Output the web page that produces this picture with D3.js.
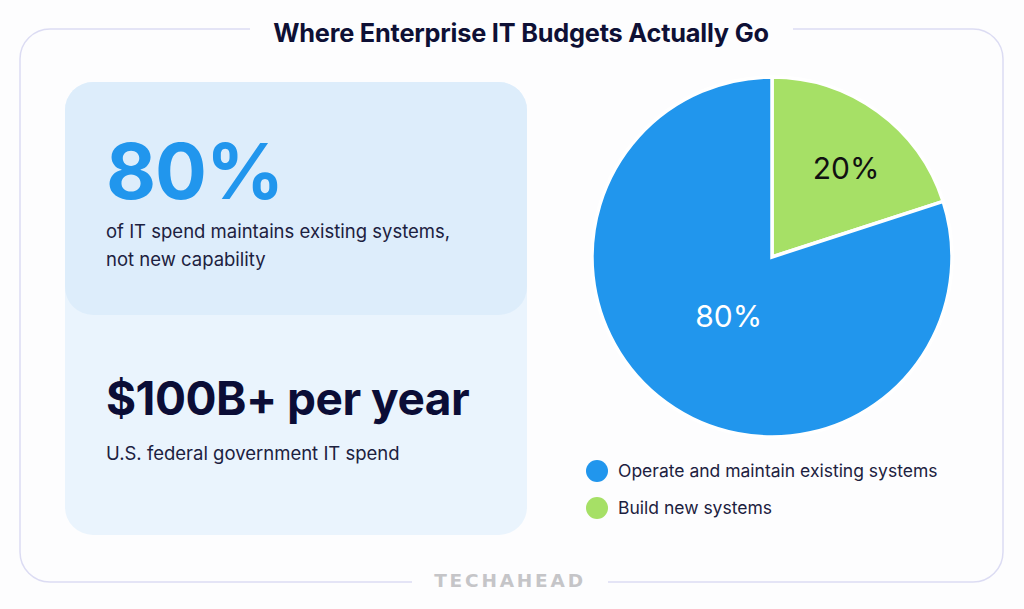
<!DOCTYPE html>
<html><head><meta charset="utf-8">
<script src="https://cdn.jsdelivr.net/npm/d3@7"></script>
<style>html,body{margin:0;padding:0;background:#fdfdfe;}svg{display:block;font-family:Inter,"Noto Sans",sans-serif;}</style>
</head><body>
<script>
const title = "Where Enterprise IT Budgets Actually Go";
const categories = ["Operate and maintain existing systems", "Build new systems"];
const values = [80, 20];
const sliceLabels = ["80%", "20%"];
const colors = ["#2196ed", "#a6e066"];
const stat1 = "80%";
const stat1Lines = ["of IT spend maintains existing systems,", "not new capability"];
const stat2 = "$100B+ per year";
const stat2Lines = ["U.S. federal government IT spend"];
const brand = "TECHAHEAD";

const W = 1024, H = 609;
const svg = d3.select("body").append("svg").attr("width", W).attr("height", H);

// outer frame with gaps for title and brand
const fx0 = 20, fy0 = 29, fx1 = 1003, fy1 = 582, rr = 30;
const framePath = `M250,${fy0} L${fx0+rr},${fy0} A${rr},${rr} 0 0 0 ${fx0},${fy0+rr} L${fx0},${fy1-rr} A${rr},${rr} 0 0 0 ${fx0+rr},${fy1} L412,${fy1}
M608,${fy1} L${fx1-rr},${fy1} A${rr},${rr} 0 0 0 ${fx1},${fy1-rr} L${fx1},${fy0+rr} A${rr},${rr} 0 0 0 ${fx1-rr},${fy0} L793,${fy0}`;
svg.append("path").attr("d", framePath).attr("fill", "none").attr("stroke", "#dcdcf3").attr("stroke-width", 1.5);

svg.append("text").attr("x", 521).attr("y", 42).attr("text-anchor", "middle")
  .attr("font-size", 25.3).attr("font-weight", 700).attr("fill", "#0e1035").attr("letter-spacing", -0.2).text(title);

// left cards
svg.append("rect").attr("x", 65).attr("y", 82).attr("width", 462).attr("height", 453).attr("rx", 28).attr("fill", "#eaf4fd");
svg.append("rect").attr("x", 65).attr("y", 82).attr("width", 462).attr("height", 233).attr("rx", 28).attr("fill", "#ddedfb");

svg.append("text").attr("x", 106).attr("y", 199).attr("font-size", 77).attr("font-weight", 700)
  .attr("fill", "#2196ed").attr("letter-spacing", -1).text(stat1);
stat1Lines.forEach((t, i) => svg.append("text").attr("x", 106).attr("y", 238 + i * 28)
  .attr("font-size", 18.5).attr("fill", "#1c2140").text(t));

svg.append("text").attr("x", 106).attr("y", 415).attr("font-size", 46).attr("font-weight", 700)
  .attr("fill", "#0b0d36").attr("letter-spacing", -0.5).text(stat2);
stat2Lines.forEach((t, i) => svg.append("text").attr("x", 106).attr("y", 460 + i * 29)
  .attr("font-size", 18.5).attr("fill", "#1c2140").text(t));

// pie
const cx = 772, cy = 257, R = 180;
const pie = d3.pie().sort(null).startAngle(0).endAngle(2 * Math.PI).value(d => d);
// order: the 20% slice starts at 12 o'clock going clockwise
const order = [1, 0];
const arcs = pie(order.map(i => values[i]));
const arc = d3.arc().innerRadius(0).outerRadius(R);
const g = svg.append("g").attr("transform", `translate(${cx},${cy})`);
g.selectAll("path").data(arcs).join("path")
  .attr("d", arc).attr("fill", (d, k) => colors[order[k]])
  .attr("stroke", "#ffffff").attr("stroke-width", 3.5).attr("stroke-linejoin", "miter");
const labelR = [0.64, 0.41];
const labelShift = [0.07, 0];
g.selectAll("text").data(arcs).join("text")
  .attr("transform", (d, k) => {
    const a = (d.startAngle + d.endAngle) / 2 + labelShift[k];
    const r = R * labelR[k];
    return `translate(${Math.sin(a) * r},${-Math.cos(a) * r})`;
  })
  .attr("text-anchor", "middle").attr("dy", "0.35em").attr("font-size", 30)
  .attr("fill", (d, k) => order[k] === 0 ? "#ffffff" : "#111111")
  .text((d, k) => sliceLabels[order[k]]);

// legend
const lg = svg.append("g");
categories.forEach((c, i) => {
  const y = 471 + i * 37;
  lg.append("circle").attr("cx", 597).attr("cy", y).attr("r", 11).attr("fill", colors[i]);
  lg.append("text").attr("x", 618).attr("y", y + 6).attr("font-size", 17.5).attr("fill", "#1c2140").text(c);
});

svg.append("text").attr("x", 510).attr("y", 587).attr("text-anchor", "middle")
  .attr("font-family", "DejaVu Sans, sans-serif").attr("font-size", 18.5).attr("font-weight", 700)
  .attr("letter-spacing", 2.8).attr("fill", "#c5c5c8").text(brand);
</script>
</body></html>
